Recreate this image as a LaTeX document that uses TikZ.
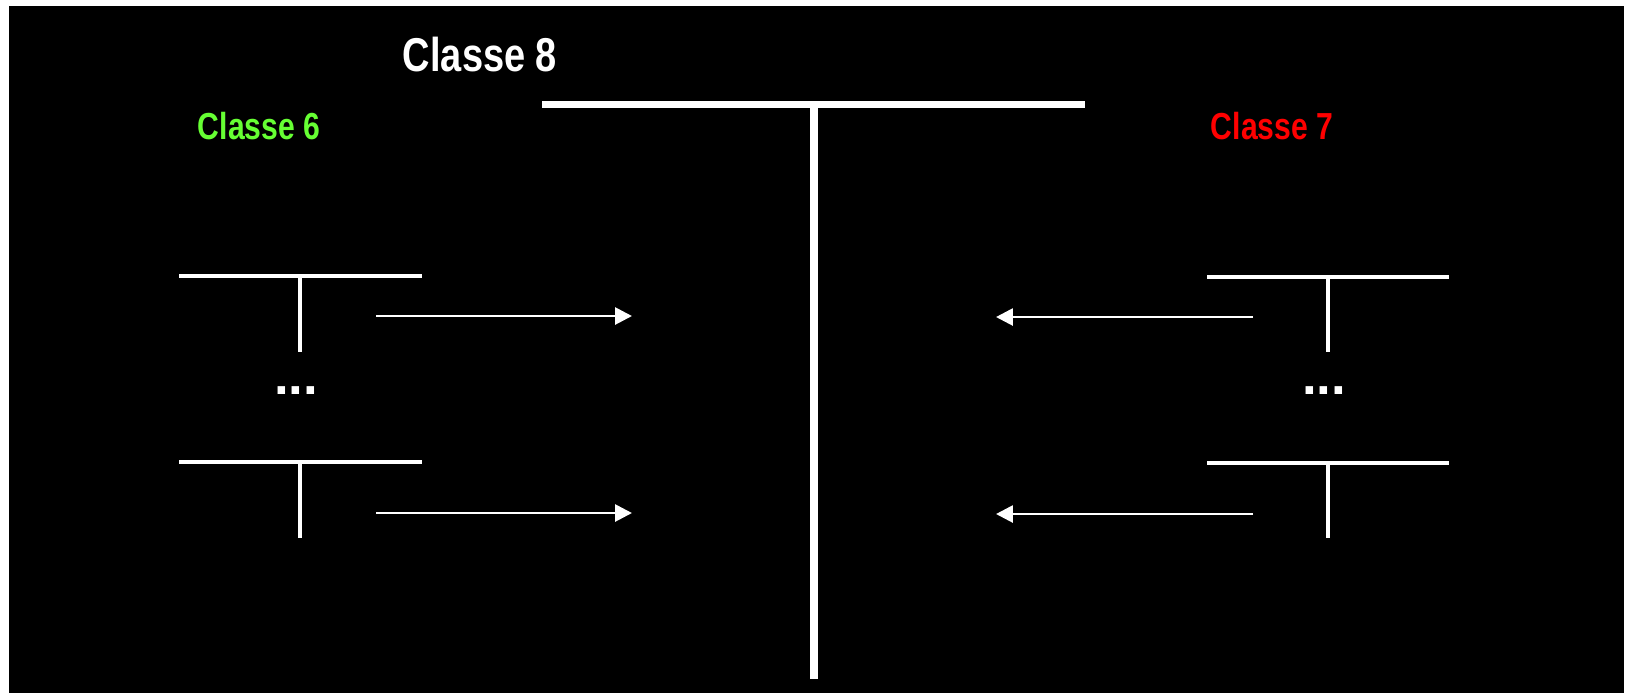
\documentclass[tikz,border=0pt]{standalone}
\usepackage{fontspec}
\setmainfont{Liberation Sans}
\newfontfamily\narrowfont[FakeStretch=0.8]{Liberation Sans}
\usetikzlibrary{arrows.meta}
\definecolor{classgreen}{RGB}{102,255,51}
\definecolor{classred}{RGB}{255,0,0}
\tikzstyle{classlabel} = [font=\narrowfont\bfseries, inner sep=0pt]
\tikzstyle{bigbar} = [white, line width=2pt]
\tikzstyle{smallbar} = [white, line width=1.1pt]
\tikzstyle{arrow1} = [white, line width=0.8pt, -{Triangle[length=4.8pt, width=4.8pt]}]

\begin{document}
\begin{tikzpicture}[x=0.01cm, y=-0.01cm]

    \fill [white] (0, 0) rectangle (1627, 693);
    \fill [black] (9, 6) rectangle (1624, 693);
    \useasboundingbox (0, 0) rectangle (1627, 693);

    % class 8
    \node [classlabel, white, font=\narrowfont\bfseries\fontsize{13.5}{16}\selectfont] (classe8) at (480, 55) {Classe 8};
    \draw [bigbar] (542, 104.5) -- (1085, 104.5);
    \draw [bigbar] (814, 104.5) -- (814, 679);

    % class 6
    \node [classlabel, classgreen, font=\narrowfont\bfseries\fontsize{10.7}{13}\selectfont] (classe6) at (259, 126) {Classe 6};
    \foreach \y in {276, 462} {
        \draw [smallbar] (179, \y) -- (422, \y);
        \draw [smallbar] (300, \y) -- (300, \y+76);
    }
    \node [classlabel, white, font=\bfseries\fontsize{15}{18}\selectfont] (dots6) at (296, 391) {...};

    % class 7
    \node [classlabel, classred, font=\narrowfont\bfseries\fontsize{10.7}{13}\selectfont] (classe7) at (1272, 126) {Classe 7};
    \foreach \y in {277, 463} {
        \draw [smallbar] (1207, \y) -- (1449, \y);
        \draw [smallbar] (1328, \y) -- (1328, \y+75);
    }
    \node [classlabel, white, font=\bfseries\fontsize{15}{18}\selectfont] (dots7) at (1324, 391) {...};

    % arrows towards class 8
    \coordinate (from6a) at (376, 316);
    \coordinate (to6a) at (632, 316);
    \coordinate (from6b) at (376, 513);
    \coordinate (to6b) at (632, 513);
    \coordinate (from7a) at (1253, 317);
    \coordinate (to7a) at (996, 317);
    \coordinate (from7b) at (1253, 514);
    \coordinate (to7b) at (996, 514);

    \draw [arrow1] (from6a) -- (to6a);
    \draw [arrow1] (from6b) -- (to6b);
    \draw [arrow1] (from7a) -- (to7a);
    \draw [arrow1] (from7b) -- (to7b);

\end{tikzpicture}
\end{document}
